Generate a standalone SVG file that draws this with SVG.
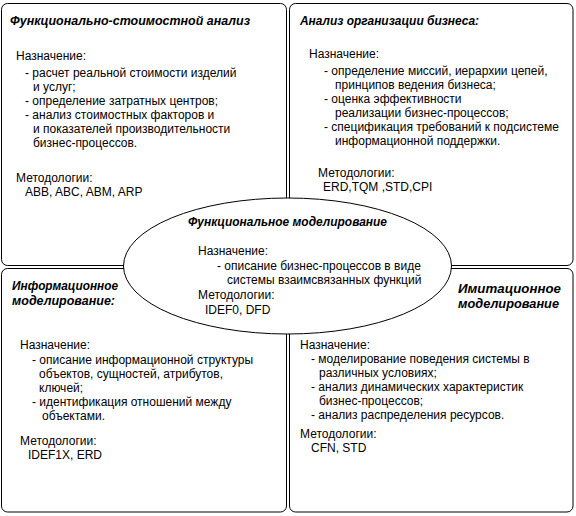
<svg xmlns="http://www.w3.org/2000/svg" width="576" height="516" viewBox="0 0 576 516">
<style>
.box{fill:#fff;stroke:#000;stroke-width:1}
.t{font-family:"Liberation Sans",Arial,sans-serif;font-size:12px;fill:#000}
.h{font-family:"Liberation Sans",Arial,sans-serif;font-size:12px;font-weight:bold;font-style:italic;fill:#000}
</style>
<rect width="576" height="516" fill="#fff"/>
<g id="box-fsa">
<rect class="box" x="1.5" y="3.5" width="285" height="262" rx="6"/>
<text class="h" x="10" y="25" textLength="240" lengthAdjust="spacingAndGlyphs">Функционально-стоимостной анализ</text>
<text class="t" x="16" y="60">Назначение:</text>
<text class="t" x="25" y="77">- расчет реальной стоимости изделий</text>
<text class="t" x="33" y="91">и услуг;</text>
<text class="t" x="25" y="105">- определение затратных центров;</text>
<text class="t" x="25" y="119">- анализ стоимостных факторов и</text>
<text class="t" x="33" y="133">и показателей производительности</text>
<text class="t" x="33" y="147">бизнес-процессов.</text>
<text class="t" x="16" y="182">Методологии:</text>
<text class="t" x="25" y="196">ABB, ABC, ABM, ARP</text>
</g>
<g id="box-aob">
<rect class="box" x="289.5" y="3.5" width="283.5" height="262" rx="6"/>
<text class="h" x="300" y="25" textLength="179" lengthAdjust="spacingAndGlyphs">Анализ организации бизнеса:</text>
<text class="t" x="309" y="58">Назначение:</text>
<text class="t" x="324" y="75">- определение миссий, иерархии цепей,</text>
<text class="t" x="335" y="89">принципов ведения бизнеса;</text>
<text class="t" x="324" y="103">- оценка эффективности</text>
<text class="t" x="335" y="117">реализации бизнес-процессов;</text>
<text class="t" x="324" y="131">- спецификация требований к подсистеме</text>
<text class="t" x="335" y="145">информационной поддержки.</text>
<text class="t" x="318" y="177">Методологии:</text>
<text class="t" x="323" y="191">ERD,TQM ,STD,CPI</text>
</g>
<g id="box-im">
<rect class="box" x="1.5" y="268.5" width="285" height="243.5" rx="6"/>
<text class="h" x="12" y="290" textLength="106" lengthAdjust="spacingAndGlyphs">Информационное</text>
<text class="h" x="12" y="305" textLength="103" lengthAdjust="spacingAndGlyphs">моделирование:</text>
<text class="t" x="20" y="349">Назначение:</text>
<text class="t" x="32" y="364">- описание информационной структуры</text>
<text class="t" x="39" y="378">объектов, сущностей, атрибутов,</text>
<text class="t" x="39" y="392">ключей;</text>
<text class="t" x="32" y="406">- идентификация отношений между</text>
<text class="t" x="42" y="420">объектами.</text>
<text class="t" x="20" y="445">Методологии:</text>
<text class="t" x="28" y="459">IDEF1X, ERD</text>
</g>
<g id="box-sim">
<rect class="box" x="289.5" y="268.5" width="283.5" height="243.5" rx="6"/>
<text class="h" x="458" y="293" textLength="103" lengthAdjust="spacingAndGlyphs">Имитационное</text>
<text class="h" x="458" y="308" textLength="101" lengthAdjust="spacingAndGlyphs">моделирование</text>
<text class="t" x="300" y="349">Назначение:</text>
<text class="t" x="311" y="363">- моделирование поведения системы в</text>
<text class="t" x="319" y="377">различных условиях;</text>
<text class="t" x="311" y="391">- анализ динамических характеристик</text>
<text class="t" x="319" y="405">бизнес-процессов;</text>
<text class="t" x="311" y="419">- анализ распределения ресурсов.</text>
<text class="t" x="300" y="438">Методологии:</text>
<text class="t" x="311" y="452">CFN, STD</text>
</g>
<g id="connectors"></g>
<g id="ellipse-fm">
<ellipse class="box" cx="287.5" cy="266" rx="164" ry="68"/>
<text class="h" x="188" y="226" textLength="199" lengthAdjust="spacingAndGlyphs">Функциональное моделирование</text>
<text class="t" x="198" y="255">Назначение:</text>
<text class="t" x="217" y="270">- описание бизнес-процессов в виде</text>
<text class="t" x="227" y="284">системы взаимсвязанных функций</text>
<text class="t" x="198" y="299">Методологии:</text>
<text class="t" x="205" y="314">IDEF0, DFD</text>
</g>
</svg>
